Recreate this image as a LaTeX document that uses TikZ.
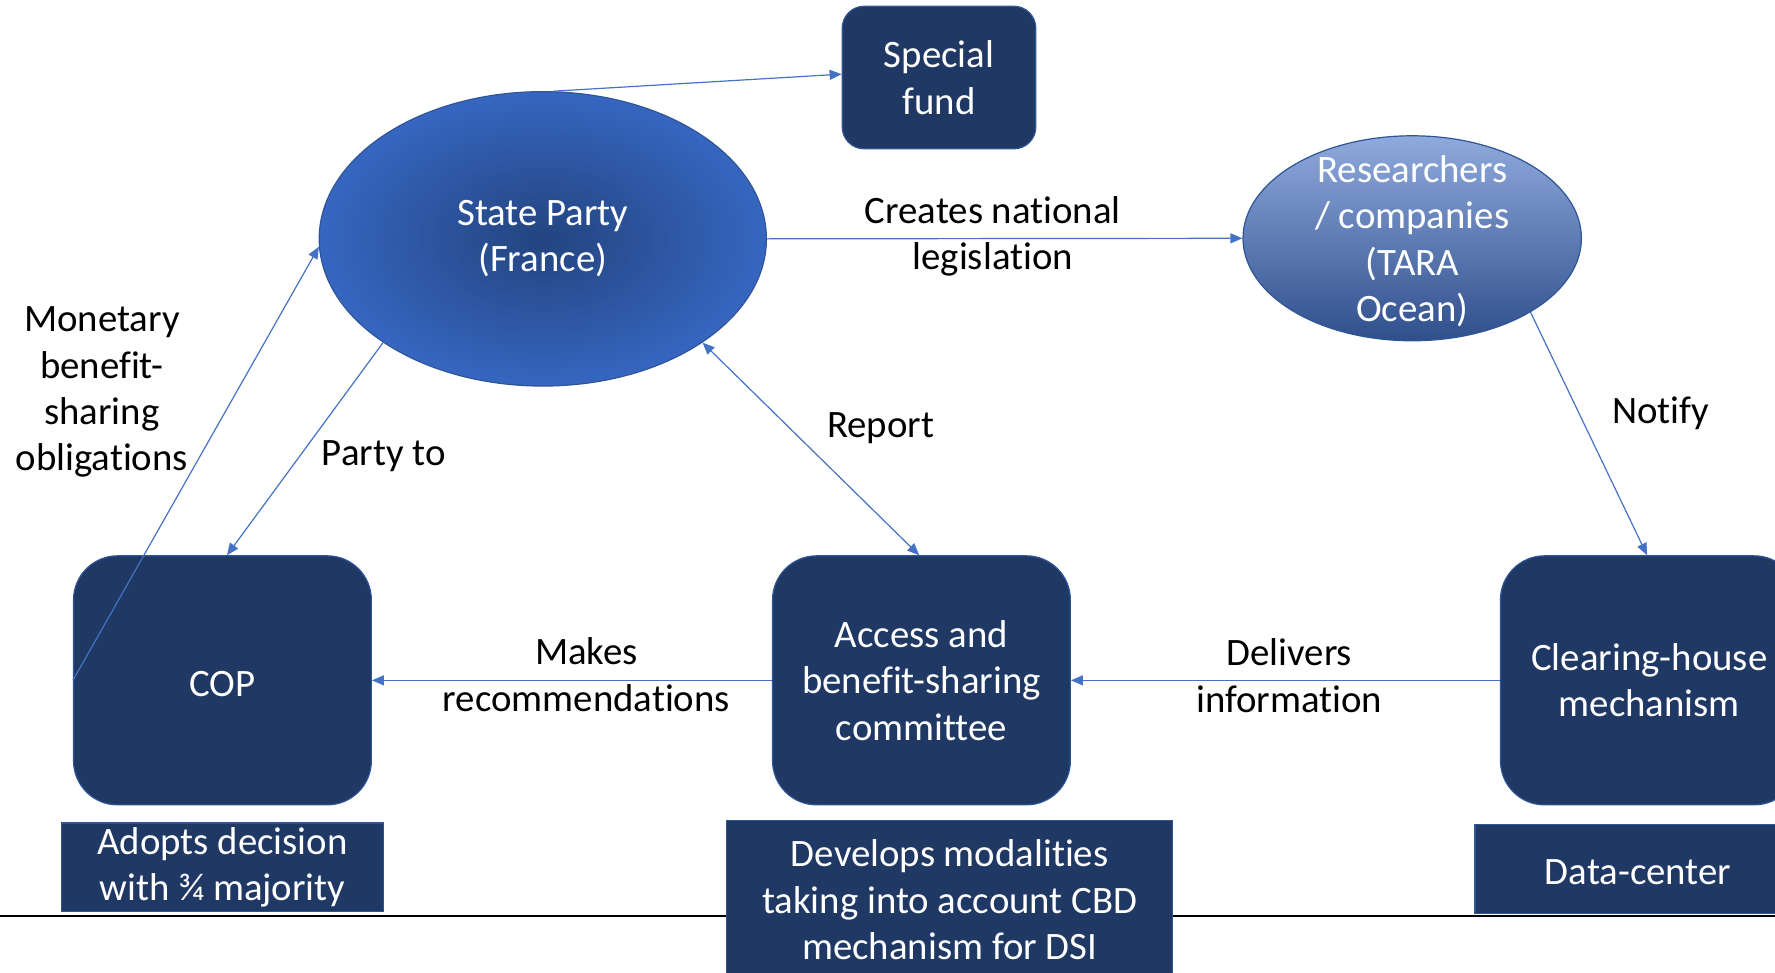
\documentclass[tikz,border=0pt]{standalone}
\usepackage{fontspec}
\setmainfont{Carlito}[Ligatures=NoCommon]
\usetikzlibrary{arrows.meta,shapes.geometric,calc}
\definecolor{navy}{HTML}{203864}
\definecolor{navyedge}{HTML}{2F5597}
\definecolor{arrowblue}{HTML}{4472C4}
\definecolor{spin}{HTML}{23447F}
\definecolor{spout}{HTML}{3666C0}
\definecolor{rtop}{HTML}{8FAADC}
\definecolor{rmid}{HTML}{4472C4}
\definecolor{rbot}{HTML}{2F4F8C}
\begin{document}
\begin{tikzpicture}[x=0.566pt,y=-0.566pt,
  txt/.style={font=\fontsize{19.4}{23.2}\selectfont, align=center},
  lowtext/.style={execute at begin node={\rule{0pt}{16pt}}},
  navybox/.style={txt, lowtext, draw=navyedge, line width=0.6pt, fill=navy, text=white, inner sep=0pt, rounded corners=22pt},
  flatbox/.style={txt, lowtext, draw=navyedge, line width=0.6pt, fill=navy, text=white, inner sep=0pt},
  tipA/.style={-{Triangle[length=6pt,width=5pt]}},
  conn/.style={draw=arrowblue, line width=0.6pt, tipA},
  lbl/.style={txt, text=black, inner sep=0pt}]
\clip (0,0) rectangle (1568,859);
\coordinate (ruleL) at (0,809);
\coordinate (ruleR) at (1568,809);
\draw[black, line width=1pt] (ruleL) -- (ruleR);

% top
\node[navybox, rounded corners=11pt, minimum width=96.8pt, minimum height=71.3pt] (fund) at (829.5,68.5) {Special\\fund};
\node[ellipse, draw=navyedge, line width=0.6pt, inner color=spin, outer color=spout,
      minimum width=223.6pt, minimum height=147.2pt, inner sep=0pt, txt, text=white] (sp) at (479.5,211) {State Party\\(France)};
\node[ellipse, draw=navyedge, line width=0.6pt, top color=rtop, middle color=rmid, bottom color=rbot,
      minimum width=169.2pt, minimum height=102.5pt, inner sep=0pt] (res) at (1247.5,210.5) {};
\node[txt, text=white, inner sep=0pt] (restxt) at (1247.5,213) {Researchers\\/ companies\\(TARA\\Ocean)};

% middle boxes
\node[navybox, minimum width=148.9pt, minimum height=124.5pt] (cop) at (196.5,601) {COP};
\node[navybox, minimum width=148.9pt, minimum height=124.5pt] (abs) at (814,601) {Access and\\benefit-sharing\\committee};
\node[navybox, minimum width=148.9pt, minimum height=124.5pt] (chm) at (1457,601) {Clearing-house\\mechanism};

% bottom boxes
\node[flatbox, minimum width=161.3pt, minimum height=44.1pt] (adopt) at (196.5,766) {Adopts decision\\with ¾ majority};
\node[flatbox, minimum width=223pt, minimum height=79.2pt] (dev) at (839,795) {Develops modalities\\taking into account CBD\\mechanism for DSI};
\node[flatbox, minimum width=163pt, minimum height=44.7pt] (dc) at (1447,767.5) {Data-center};

% connectors
\draw[conn] (sp.86) -- ($(fund.west)+(0,-3)$);
\draw[conn] (sp.east) -- (res.west);
\draw[conn] (sp.213) -- ($(cop.north)+(4,0)$);
\draw[conn, {Triangle[length=6pt,width=5pt]}-{Triangle[length=6pt,width=5pt]}] (sp.327) -- ($(abs.north)+(-2,0)$);
\draw[conn] (cop.west) -- (sp.182);
\draw[conn] (res.328) -- ($(chm.north)+(-2,0)$);
\draw[conn] (abs.west) -- (cop.east);
\draw[conn] (chm.west) -- (abs.east);

% labels
\node[lbl] (l1) at (877,209) {Creates national\\legislation};
\node[lbl] (l2) at (339,403) {Party to};
\node[lbl] (l3) at (778,378) {Report};
\node[lbl] (l4) at (90,346.5) {Monetary\\benefit-\\sharing\\obligations};
\node[lbl] (l5) at (1467,365) {Notify};
\node[lbl] (l6) at (518,596) {Makes\\recommendations};
\node[lbl] (l7) at (1139,597) {Delivers\\information};
\end{tikzpicture}
\end{document}
